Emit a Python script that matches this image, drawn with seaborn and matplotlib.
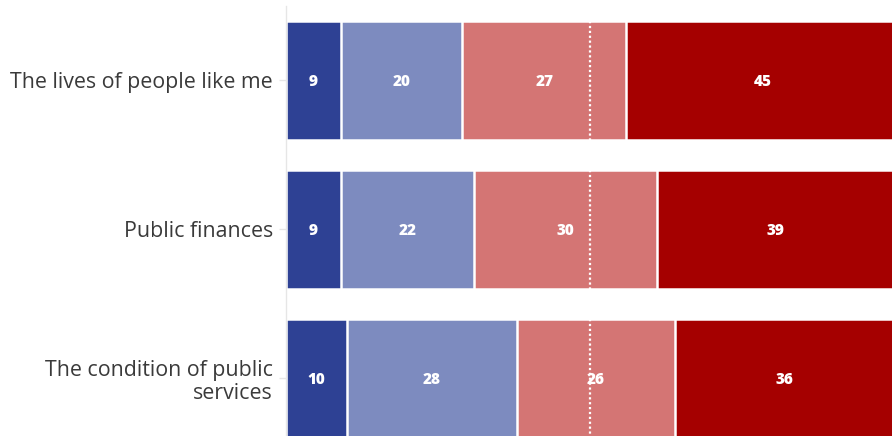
import matplotlib
matplotlib.use("Agg")
import matplotlib.pyplot as plt
import seaborn as sns
import numpy as np
import pandas as pd

categories = ["The lives of people like me", "Public finances", "The condition of public\nservices"]
series_names = ["s1", "s2", "s3", "s4"]
s1 = [9, 9, 10]
s2 = [20, 22, 28]
s3 = [27, 30, 26]
s4 = [45, 39, 36]
colors = ["#2E4194", "#7D8BBF", "#D47574", "#A50000"]
midline = 50

sns.set_theme(style="white")
plt.rcParams['font.family'] = ['Open Sans', 'DejaVu Sans']

fig = plt.figure(figsize=(8.92, 4.36), dpi=100)
ax = fig.add_axes([286/892, 0, 1 - 286/892, 430/436])

vals = np.array([s1, s2, s3, s4], dtype=float)
cum = np.cumsum(vals, axis=0)

for i in range(3, -1, -1):
    df = pd.DataFrame({"cat": categories, "val": cum[i]})
    sns.barplot(data=df, y="cat", x="val", orient="h", color=colors[i],
                saturation=1, width=0.8, edgecolor="white", linewidth=1.8, ax=ax)

for j in range(3):
    ax.plot([midline, midline], [j - 0.4, j + 0.4], color="white", lw=1.6,
            ls=(0, (1, 1.2)), zorder=5)
    for i in range(4):
        start = cum[i][j] - vals[i][j]
        ax.text(start + vals[i][j] / 2, j + 0.012, f"{int(vals[i][j])}", ha="center", va="center",
                color="white", fontsize=11, fontweight="heavy", zorder=6)

ax.set_xlim(0, 99.7)
ax.set_ylim(2.386, -0.5)
ax.set_xlabel("")
ax.set_ylabel("")
ax.set_xticks([])
for s in ["top", "right", "bottom"]:
    ax.spines[s].set_visible(False)
ax.spines["left"].set_color("#e6e6e6")
ax.spines["left"].set_linewidth(1)
ax.tick_params(axis="y", left=True, length=5, width=1, color="#e6e6e6", pad=4.5,
               labelsize=15.4, labelcolor="#3a3a3a")
for lab in ax.get_yticklabels():
    lab.set_horizontalalignment("right")
    lab.set_multialignment("right")
    lab.set_linespacing(1.15)

fig.savefig("out.png", dpi=100)
